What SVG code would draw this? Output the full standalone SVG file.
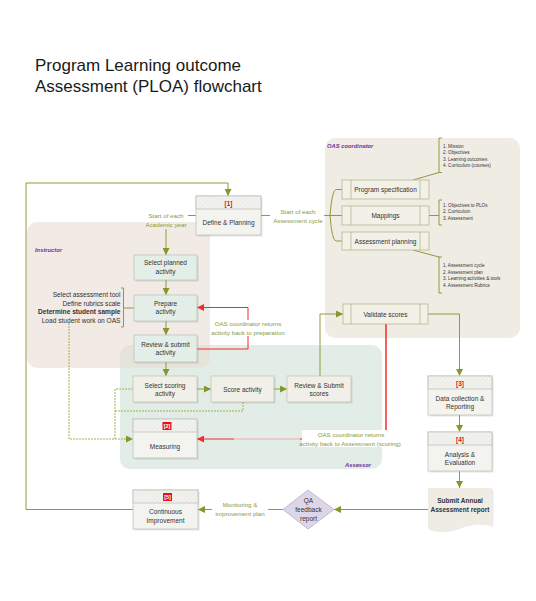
<svg xmlns="http://www.w3.org/2000/svg" width="536" height="601" viewBox="0 0 536 601">
<defs>
<style>
text{font-family:"Liberation Sans","DejaVu Sans",sans-serif;}
.t{font-size:6.5px;fill:#333;text-anchor:middle}
.title{font-size:17px;fill:#1a1a1a}
.lbl{font-size:6.2px;fill:#8a9a35;text-anchor:middle}
.lanelbl{font-size:5.8px;fill:#7030a0;font-weight:bold;font-style:italic}
.list{font-size:4.6px;fill:#333}
.left{font-size:6.6px;fill:#333;text-anchor:end}
.num{font-size:6.5px;fill:#e8101a;font-weight:bold;text-anchor:middle}
.numw{font-size:5.5px;fill:#fff;font-weight:bold;text-anchor:middle}
.ln{fill:none;stroke:#8f9a3c;stroke-width:1}
.red{fill:none;stroke:#f52a2a;stroke-width:1}
.dot{fill:none;stroke:#a4b24c;stroke-width:1;stroke-dasharray:2 1}
.hdr{fill:url(#hatch);stroke:#c4c4bc;stroke-width:0.8}
.body{fill:#f3f3f0;stroke:#c4c4bc;stroke-width:0.8}
.inst{fill:url(#hatchG);stroke:#b9c6be;stroke-width:0.8}
.ass{fill:#f0f0e8;stroke:#c6c6b6;stroke-width:0.8}
.proc{fill:#f2f0e7;stroke:#b5b990;stroke-width:0.8}
.sh{fill:#000;opacity:0.1}
.bg{fill:#fff}
</style>
<pattern id="hatch" width="3" height="3" patternUnits="userSpaceOnUse" patternTransform="rotate(45)">
<rect width="3" height="3" fill="#f2f2ef"/>
<line x1="0" y1="0" x2="0" y2="3" stroke="#e3e3df" stroke-width="1.2"/>
</pattern>
<pattern id="hatchG" width="3" height="3" patternUnits="userSpaceOnUse" patternTransform="rotate(45)">
<rect width="3" height="3" fill="#e6f0ea"/>
<line x1="0" y1="0" x2="0" y2="3" stroke="#dbe8e0" stroke-width="1.2"/>
</pattern>
<marker id="arr" viewBox="0 0 10 10" refX="10" refY="5" markerWidth="7" markerHeight="7" orient="auto" markerUnits="userSpaceOnUse">
<path d="M0,0 L10,5 L0,10 z" fill="#86962a"/>
</marker>
<marker id="arrR" viewBox="0 0 10 10" refX="10" refY="5" markerWidth="7" markerHeight="7" orient="auto" markerUnits="userSpaceOnUse">
<path d="M0,0 L10,5 L0,10 z" fill="#f52a2a"/>
</marker>
</defs>

<rect width="536" height="601" fill="#fff"/>

<text class="title" x="35" y="71">Program Learning outcome</text>
<text class="title" x="35" y="92">Assessment (PLOA) flowchart</text>

<g id="lanes">
<rect x="325" y="138" width="195" height="200" rx="10" fill="#efede3"/>
<rect x="120" y="345" width="262" height="124" rx="10" fill="#e3ede7"/>
<rect x="27" y="222" width="183" height="146" rx="10" fill="#e8dcd3" fill-opacity="0.6"/>
<text class="lanelbl" x="327" y="148">OAS coordinator</text>
<text class="lanelbl" x="35" y="252">Instructor</text>
<text class="lanelbl" x="345" y="467">Assessor</text>
</g>

<g id="connectors">
<path class="ln" d="M133,509.5 H26 V183 H228 V196" marker-end="url(#arr)"/>
<path class="ln" d="M196,215.5 H188"/>
<path class="ln" d="M166,229 V255" marker-end="url(#arr)"/>
<path class="ln" d="M261,215.5 H270"/>
<path class="ln" d="M324,215.5 H330"/>
<path class="ln" d="M330,215.5 Q332,190 336,189.5 H342"/>
<path class="ln" d="M330,215.5 H342"/>
<path class="ln" d="M330,215.5 Q332,241 336,241 H342"/>
<path class="ln" d="M413,180 L439,172.5"/>
<path class="ln" d="M442,138 H439 V172.5 H442"/>
<path class="ln" d="M429,215.5 H439"/>
<path class="ln" d="M442,200 H439 V225 H442"/>
<path class="ln" d="M413,250 L439,257"/>
<path class="ln" d="M442,257 H439 V293 H442"/>
<path class="ln" d="M121,288 H123.5 V327 H121"/>
<path class="ln" d="M123.5,308 H134"/>
<path class="ln" d="M166,280 V295" marker-end="url(#arr)"/>
<path class="ln" d="M166,321 V335" marker-end="url(#arr)"/>
<path class="ln" d="M166,362 V376" marker-end="url(#arr)"/>
<path class="red" d="M197,349 H248 V307.5 H197" marker-end="url(#arrR)"/>
<path class="ln" d="M197,389 H211" marker-end="url(#arr)"/>
<path class="ln" d="M274,389 H287" marker-end="url(#arr)"/>
<path class="ln" d="M320,376 V314 H343" marker-end="url(#arr)"/>
<path class="ln" d="M428,314 H459.5 V376" marker-end="url(#arr)"/>
<path class="red" d="M386,324 V439 H300" stroke="#f7a8a8"/>
<path d="M386,324 V430" fill="none" stroke="#f52a2a" stroke-width="1"/>
<path d="M300,439 H234" fill="none" stroke="#f7a8a8" stroke-width="1"/>
<path class="red" d="M234,439 H197" marker-end="url(#arrR)"/>
<path class="dot" d="M69,323 V439 H133" marker-end="url(#arr)"/>
<path class="dot" d="M133,389 H115 V439"/>
<path class="dot" d="M243,402 V411 H115"/>
<path class="ln" d="M459.5,415 V432" marker-end="url(#arr)"/>
<path class="ln" d="M459.5,471 V488" marker-end="url(#arr)"/>
<path class="ln" d="M428,509.5 H334" marker-end="url(#arr)"/>
<path class="ln" d="M283,509.5 H268"/>
<path class="ln" d="M212,509.5 H198" marker-end="url(#arr)"/>
</g>

<g id="labels">
<text class="lbl" x="166" y="218">Start of each</text>
<text class="lbl" x="166" y="226.5">Academic year</text>
<text class="lbl" x="298" y="213.5">Start of each</text>
<text class="lbl" x="298" y="222.5">Assessment cycle</text>
<rect class="bg" x="212" y="320" width="72" height="16"/>
<text class="lbl" x="248" y="326">OAS coordinator returns</text>
<text class="lbl" x="248" y="334.5">activity back to preparation</text>
<rect class="bg" x="302" y="430" width="96" height="17"/>
<text class="lbl" x="351" y="437.3">OAS coordinator returns</text>
<text class="lbl" x="350" y="445.5">activity back to Assessment (scoring)</text>
<text class="lbl" x="240" y="507">Monitoring &amp;</text>
<text class="lbl" x="240" y="516">improvement plan</text>
<text class="left" x="120.5" y="297">Select assessment tool</text>
<text class="left" x="120.5" y="305.5">Define rubrics scale</text>
<text class="left" x="120.5" y="314" font-weight="bold" fill="#111">Determine student sample</text>
<text class="left" x="120.5" y="322.5">Load student work on OAS</text>
<text class="list" x="443" y="147.5">1. Mission</text>
<text class="list" x="443" y="154">2. Objectives</text>
<text class="list" x="443" y="160.5">3. Learning outcomes</text>
<text class="list" x="443" y="167">4. Curriculum (courses)</text>
<text class="list" x="443" y="206.5">1. Objectives to PLOs</text>
<text class="list" x="443" y="213">2. Curriculum</text>
<text class="list" x="443" y="219.5">3. Assessment</text>
<text class="list" x="443" y="267">1. Assessment cycle</text>
<text class="list" x="443" y="273.5">2. Assessment plan</text>
<text class="list" x="443" y="280">3. Learning activities &amp; tools</text>
<text class="list" x="443" y="286.5">4. Assessment Rubrics</text>
</g>

<g id="n1">
<rect class="sh" x="197.5" y="197.5" width="65" height="39"/>
<rect class="body" x="196" y="196" width="65" height="39"/>
<rect class="hdr" x="196" y="196" width="65" height="13"/>
<text class="num" x="228.5" y="205.5">[1]</text>
<text class="t" x="228.5" y="224.5">Define &amp; Planning</text>
</g>

<g id="progspec">
<rect class="proc" x="342" y="180" width="87" height="19"/>
<path class="proc" d="M351,180 V199 M420,180 V199"/>
<text class="t" x="385.5" y="192">Program specification</text>
</g>
<g id="mappings">
<rect class="proc" x="342" y="206" width="87" height="19"/>
<path class="proc" d="M351,206 V225 M420,206 V225"/>
<text class="t" x="385.5" y="218">Mappings</text>
</g>
<g id="assplan">
<rect class="proc" x="342" y="232" width="87" height="18"/>
<path class="proc" d="M351,232 V250 M420,232 V250"/>
<text class="t" x="385.5" y="243.5">Assessment planning</text>
</g>
<g id="validate">
<rect class="proc" x="343" y="304" width="85" height="20"/>
<path class="proc" d="M351,304 V324 M420,304 V324"/>
<text class="t" x="385.5" y="316.5">Validate scores</text>
</g>

<g id="selplanned">
<rect class="sh" x="135.5" y="256.5" width="63" height="25"/>
<rect class="inst" x="134" y="255" width="63" height="25"/>
<text class="t" x="165.5" y="265">Select planned</text>
<text class="t" x="165.5" y="274">activity</text>
</g>
<g id="prepare">
<rect class="sh" x="135.5" y="296.5" width="63" height="26"/>
<rect class="inst" x="134" y="295" width="63" height="26"/>
<text class="t" x="165.5" y="305.5">Prepare</text>
<text class="t" x="165.5" y="314">activity</text>
</g>
<g id="reviewact">
<rect class="sh" x="135.5" y="336.5" width="63" height="27"/>
<rect class="inst" x="134" y="335" width="63" height="27"/>
<text class="t" x="165.5" y="346.5">Review &amp; submit</text>
<text class="t" x="165.5" y="355">activity</text>
</g>

<g id="selscoring">
<rect class="sh" x="134.5" y="377.5" width="64" height="26"/>
<rect class="ass" x="133" y="376" width="64" height="26"/>
<text class="t" x="165" y="387.5">Select scoring</text>
<text class="t" x="165" y="396">activity</text>
</g>
<g id="score">
<rect class="sh" x="212.5" y="377.5" width="63" height="26"/>
<rect class="ass" x="211" y="376" width="63" height="26"/>
<text class="t" x="242.5" y="391.5">Score activity</text>
</g>
<g id="reviewscores">
<rect class="sh" x="288.5" y="377.5" width="64" height="26"/>
<rect class="ass" x="287" y="376" width="64" height="26"/>
<text class="t" x="319" y="387.5">Review &amp; Submit</text>
<text class="t" x="319" y="396">scores</text>
</g>

<g id="n2">
<rect class="sh" x="134.5" y="420.5" width="64" height="39"/>
<rect class="body" x="133" y="419" width="64" height="39"/>
<rect class="hdr" x="133" y="419" width="64" height="13"/>
<rect x="162.5" y="422" width="9" height="8" fill="#e8101a"/>
<text class="numw" x="167" y="428.3">[2]</text>
<text class="t" x="165" y="448.5">Measuring</text>
</g>

<g id="n3">
<rect class="sh" x="429.5" y="377.5" width="64" height="39"/>
<rect class="body" x="428" y="376" width="64" height="39"/>
<rect class="hdr" x="428" y="376" width="64" height="13"/>
<text class="num" x="460" y="385.5">[3]</text>
<text class="t" x="460" y="400.5">Data collection &amp;</text>
<text class="t" x="460" y="409">Reporting</text>
</g>
<g id="n4">
<rect class="sh" x="429.5" y="433.5" width="64" height="39"/>
<rect class="body" x="428" y="432" width="64" height="39"/>
<rect class="hdr" x="428" y="432" width="64" height="13"/>
<text class="num" x="460" y="441.5">[4]</text>
<text class="t" x="460" y="456.5">Analysis &amp;</text>
<text class="t" x="460" y="465">Evaluation</text>
</g>
<g id="report">
<path d="M429.5,489.5 H493.5 V527 Q477,522 461,528.5 T429.5,530 Z" fill="#000" opacity="0.08"/>
<path d="M428,488 H492 V526 Q476,521 460,527 T428,529 Z" fill="#efede3"/>
<text class="t" x="460" y="502.5" font-weight="bold" fill="#111">Submit Annual</text>
<text class="t" x="460" y="511.5" font-weight="bold" fill="#111">Assessment report</text>
</g>

<g id="qa">
<polygon points="308,490 334,509.5 308,529 283,509.5" fill="#ddd6e8" stroke="#b8b0c8" stroke-width="0.8"/>
<text class="t" x="308.5" y="503">QA</text>
<text class="t" x="308.5" y="512">feedback</text>
<text class="t" x="308.5" y="520.5">report</text>
</g>

<g id="n5">
<rect class="sh" x="134.5" y="491.5" width="65" height="39"/>
<rect class="body" x="133" y="490" width="65" height="39"/>
<rect class="hdr" x="133" y="490" width="65" height="13"/>
<rect x="163" y="493" width="9" height="8" fill="#e8101a"/>
<text class="numw" x="167.5" y="499.3">[5]</text>
<text class="t" x="165.5" y="514">Continuous</text>
<text class="t" x="165.5" y="523">Improvement</text>
</g>
</svg>
